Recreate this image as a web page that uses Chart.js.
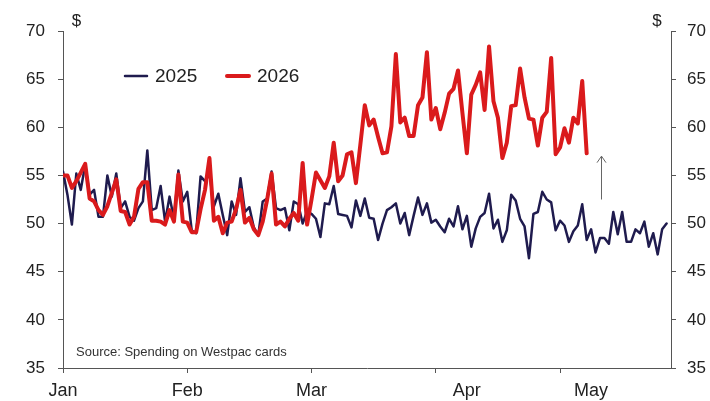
<!DOCTYPE html>
<html>
<head>
<meta charset="utf-8">
<script src="https://cdn.jsdelivr.net/npm/chart.js@4/dist/chart.umd.min.js"></script>
<style>
  html, body { margin: 0; padding: 0; background: #ffffff; }
  #wrap { width: 710px; height: 401px; position: relative; }
</style>
</head>
<body>
<div id="wrap"><canvas id="chart"></canvas></div>
<script>
// Daily card spending per customer ($), day 0 = 1 January
const spend2025 = [
  55.4, 53.0, 49.9, 55.2, 53.5, 56.1, 53.0, 53.5, 50.7, 50.7,
  55.0, 52.8, 55.2, 51.6, 52.3, 50.7, 50.3, 51.6, 52.3, 57.6,
  51.4, 51.6, 53.9, 50.2, 52.8, 50.5, 55.5, 52.3, 53.3, 49.3,
  49.0, 54.9, 54.4, 55.2, 51.8, 53.1, 50.9, 48.8, 52.3, 50.9,
  54.7, 51.2, 51.7, 49.6, 48.8, 52.3, 52.6, 55.4, 51.6, 51.4,
  51.6, 49.3, 52.3, 52.0, 50.0, 51.3, 51.0, 50.5, 48.6, 52.1,
  52.0, 53.9, 51.0, 50.9, 50.8, 49.6, 52.4, 50.8, 52.6, 50.6,
  50.5, 48.3, 50.0, 51.4, 51.7, 52.1, 50.0, 51.1, 48.8, 50.8,
  52.7, 50.9, 52.1, 50.1, 50.4, 49.7, 49.1, 50.5, 49.7, 51.8,
  49.4, 50.8, 47.6, 49.5, 50.7, 51.1, 53.1, 49.5, 50.4, 48.1,
  49.3, 53.0, 52.4, 50.5, 49.7, 46.4, 51.0, 51.2, 53.3, 52.5,
  52.2, 49.3, 50.3, 49.8, 48.1, 49.2, 49.8, 52.0, 48.3, 49.4,
  47.0, 48.5, 48.5, 47.9, 51.2, 48.9, 51.2, 48.1, 48.1, 49.4,
  49.0, 50.2, 47.6, 49.0, 46.8, 49.4, 50.0
];
const spend2026 = [
  55.0, 55.0, 53.7, 54.4, 55.3, 56.2, 52.6, 52.3, 51.4, 50.9,
  51.8, 53.2, 54.6, 51.3, 51.2, 49.9, 50.7, 53.6, 54.3, 54.3,
  50.3, 50.3, 50.2, 49.9, 51.4, 50.2, 55.1, 50.2, 50.1, 49.1,
  49.1, 51.5, 53.5, 56.8, 50.3, 50.7, 49.0, 50.1, 50.2, 51.5,
  53.5, 50.1, 50.6, 49.4, 48.8, 50.2, 52.5, 55.2, 49.9, 50.2,
  49.7, 50.5, 51.1, 50.3, 56.3, 49.9, 52.5, 55.3, 54.5, 53.7,
  54.9, 58.4, 54.4, 55.0, 57.2, 57.4, 54.2, 58.2, 62.3, 60.2,
  60.8, 59.0, 57.3, 57.4, 60.1, 67.6, 60.5, 61.0, 59.1, 59.1,
  62.3, 63.1, 67.8, 60.8, 62.0, 59.8, 61.5, 63.5, 64.0, 65.9,
  61.5, 57.3, 63.4, 64.4, 65.7, 61.8, 68.4, 62.7, 61.0, 56.8,
  58.4, 62.2, 62.3, 66.1, 63.1, 60.9, 60.8, 58.1, 61.0, 61.6,
  67.2, 57.2, 57.9, 59.9, 58.4, 61.0, 60.4, 64.8, 57.3
];
const seriesNames = ['2025', '2026'];
const seriesColors = ['#1f1b4e', '#da1a1c'];

// x axis: tick marks every 28 days, month names under them
const axisTickDays = [0, 28, 56, 84, 112];
const monthLabels = ['Jan', 'Feb', 'Mar', 'Apr', 'May'];
const monthLabelDays = [0, 28, 56, 91, 119];
const dayMax = 137;

// y axes ($)
const yMin = 35, yMax = 70, yStep = 5;

// upward arrow beside the latest reading
const arrowDay = 121.3;
const arrowFrom = 52.5;
const arrowTo = 57.0;

const sourceNote = 'Source: Spending on Westpac cards';
const unitLabel = '$';

const FONT = "'Liberation Sans', Arial, Helvetica, sans-serif";
const AXIS_GREY = '#555555';
const TEXT = '#222222';

const toPoints = arr => arr.map((v, i) => ({ x: i, y: v }));

const extras = {
  id: 'extras',
  afterDatasetsDraw(chart) {
    const { ctx, chartArea: a, scales } = chart;
    const xs = scales.x, ys = scales.y;
    ctx.save();

    // arrow
    const ax = Math.round(xs.getPixelForValue(arrowDay)) + 0.5;
    const ay1 = ys.getPixelForValue(arrowFrom);
    const ay2 = ys.getPixelForValue(arrowTo);
    ctx.strokeStyle = '#666666';
    ctx.lineWidth = 1;
    ctx.beginPath();
    ctx.moveTo(ax, ay1);
    ctx.lineTo(ax, ay2);
    ctx.moveTo(ax - 4.5, ay2 + 6.5);
    ctx.lineTo(ax, ay2);
    ctx.lineTo(ax + 4.5, ay2 + 6.5);
    ctx.stroke();

    // unit labels above each axis
    ctx.fillStyle = TEXT;
    ctx.font = '17px ' + FONT;
    ctx.textAlign = 'center';
    ctx.textBaseline = 'middle';
    ctx.fillText(unitLabel, a.left + 13.5, a.top - 10);
    ctx.fillText(unitLabel, a.right - 14, a.top - 10);

    // source note
    ctx.font = '13px ' + FONT;
    ctx.fillStyle = '#333333';
    ctx.textAlign = 'left';
    ctx.fillText(sourceNote, a.left + 13, a.bottom - 16);

    // legend
    const legendX = [a.left + 62, a.left + 164];
    const legendY = a.top + 45;
    ctx.font = '19px ' + FONT;
    chart.data.datasets.slice().sort((p, q) => p.label.localeCompare(q.label)).forEach((ds, k) => {
      ctx.strokeStyle = ds.borderColor;
      ctx.lineWidth = ds.label === '2026' ? 4 : 2.5;
      ctx.lineCap = 'round';
      ctx.beginPath();
      ctx.moveTo(legendX[k], legendY);
      ctx.lineTo(legendX[k] + 22, legendY);
      ctx.stroke();
      ctx.fillStyle = TEXT;
      ctx.fillText(ds.label, legendX[k] + 30, legendY + 0.5);
    });
    ctx.restore();
  }
};

const yAxis = (pos, width, pad) => ({
  type: 'linear',
  position: pos,
  min: yMin,
  max: yMax,
  ticks: { stepSize: yStep, font: { family: FONT, size: 17 }, color: TEXT, padding: pad },
  grid: { drawOnChartArea: false, tickLength: 5, color: AXIS_GREY },
  border: { color: AXIS_GREY },
  afterFit: s => { s.width = width; }
});

new Chart(document.getElementById('chart'), {
  type: 'line',
  data: {
    datasets: [
      {
        label: seriesNames[0], data: toPoints(spend2025),
        borderColor: seriesColors[0], borderWidth: 2.5, order: 2,
        xAxisID: 'x', yAxisID: 'y'
      },
      {
        label: seriesNames[1], data: toPoints(spend2026),
        borderColor: seriesColors[1], borderWidth: 4, order: 1,
        xAxisID: 'x', yAxisID: 'y'
      }
    ]
  },
  options: {
    responsive: true,
    maintainAspectRatio: false,
    animation: false,
    events: [],
    layout: { padding: { top: 31, left: 0, right: 0, bottom: 0 } },
    elements: {
      point: { radius: 0 },
      line: { tension: 0, borderJoinStyle: 'round', borderCapStyle: 'round', fill: false }
    },
    plugins: { legend: { display: false }, tooltip: { enabled: false } },
    scales: {
      x: {
        type: 'linear', position: 'bottom', weight: 0, min: 0, max: dayMax,
        afterBuildTicks: s => { s.ticks = axisTickDays.map(v => ({ value: v })); },
        ticks: { display: false },
        grid: { drawOnChartArea: false, tickLength: 5, color: AXIS_GREY },
        border: { color: AXIS_GREY },
        afterFit: s => { s.height = 6; }
      },
      xMonths: {
        type: 'linear', position: 'bottom', weight: 1, min: 0, max: dayMax,
        afterBuildTicks: s => { s.ticks = monthLabelDays.map(v => ({ value: v })); },
        ticks: {
          autoSkip: false, maxRotation: 0, padding: 6,
          font: { family: FONT, size: 18 }, color: TEXT,
          callback: (v, i) => monthLabels[i]
        },
        grid: { display: false, drawTicks: false },
        border: { display: false },
        afterFit: s => { s.height = 27; }
      },
      y: yAxis('left', 63, 13),
      y2: yAxis('right', 39, 11)
    }
  },
  plugins: [extras]
});
</script>
</body>
</html>
